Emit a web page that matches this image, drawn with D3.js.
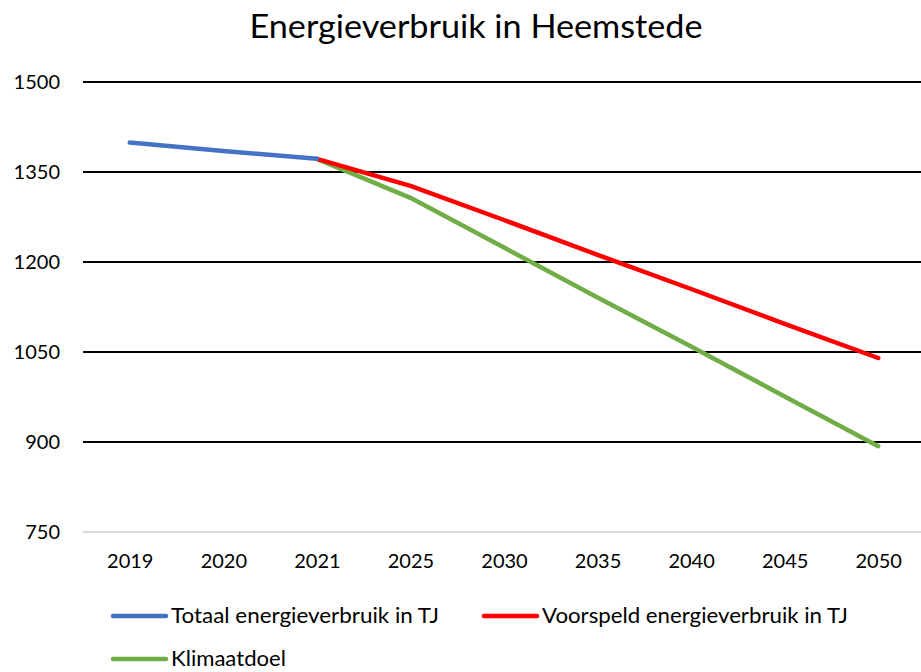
<!DOCTYPE html>
<html>
<head>
<meta charset="utf-8">
<script src="https://cdn.jsdelivr.net/npm/d3@7"></script>
<style>
  body { margin: 0; background: #fff; }
  svg { display: block; font-family: Lato, "Open Sans", sans-serif; }
</style>
</head>
<body>
<div id="chart"></div>
<script>
const years = ['2019', '2020', '2021', '2025', '2030', '2035', '2040', '2045', '2050'];
const yTicks = [750, 900, 1050, 1200, 1350, 1500];

// null = no value for that year
const totaal = [1399, 1385, 1372, null, null, null, null, null, null];
const voorspeld = [null, null, 1372, 1327, 1270, 1212, 1155, 1097, 1040];
const klimaatdoel = [null, null, 1372, 1307, 1224, 1141, 1059, 976, 893];

const seriesNames = ['Totaal energieverbruik in TJ', 'Voorspeld energieverbruik in TJ', 'Klimaatdoel'];
const seriesColors = ['#4472c4', '#ff0000', '#70ad47'];

const width = 921, height = 672;
const margin = { top: 82, right: -4, bottom: 140, left: 83 };

const svg = d3.select('#chart').append('svg')
    .attr('width', width)
    .attr('height', height);

const x = d3.scalePoint()
    .domain(years)
    .range([margin.left, width - margin.right])
    .padding(0.5);

const y = d3.scaleLinear()
    .domain([750, 1500])
    .range([height - margin.bottom, margin.top]);

// title
svg.append('text')
    .attr('x', 476)
    .attr('y', 38)
    .attr('text-anchor', 'middle')
    .attr('textLength', 453)
    .attr('lengthAdjust', 'spacingAndGlyphs')
    .style('font-size', '32px')
    .style('fill', '#000')
    .text('Energieverbruik in Heemstede');

// gridlines
svg.append('g')
    .selectAll('line')
    .data(yTicks)
  .enter().append('line')
    .attr('x1', margin.left)
    .attr('x2', width)
    .attr('y1', d => y(d))
    .attr('y2', d => y(d))
    .attr('stroke', d => d === 750 ? '#d9d9d9' : '#000')
    .attr('stroke-width', 2);

// y axis labels
const yAxis = svg.append('g')
    .attr('transform', 'translate(' + margin.left + ',0)')
    .call(d3.axisLeft(y).tickValues(yTicks).tickSize(0).tickPadding(23).tickFormat(d3.format('d')));
yAxis.select('.domain').remove();
yAxis.selectAll('text').style('font-size', '20px').style('fill', '#000').style('font-family', 'Lato, sans-serif');

// x axis labels
const xAxis = svg.append('g')
    .attr('transform', 'translate(0,' + y(750) + ')')
    .call(d3.axisBottom(x).tickSize(0).tickPadding(22));
xAxis.select('.domain').remove();
xAxis.selectAll('text').style('font-size', '20px').style('fill', '#000').style('font-family', 'Lato, sans-serif');

// lines
const line = d3.line()
    .defined(d => d.value !== null)
    .x(d => x(d.year))
    .y(d => y(d.value));

const allSeries = [totaal, voorspeld, klimaatdoel];
// draw green first, then red, then blue on top
[2, 1, 0].forEach(i => {
    const data = years.map((yr, j) => ({ year: yr, value: allSeries[i][j] }));
    svg.append('path')
        .datum(data)
        .attr('fill', 'none')
        .attr('stroke', seriesColors[i])
        .attr('stroke-width', 4.5)
        .attr('stroke-linecap', 'round')
        .attr('stroke-linejoin', 'round')
        .attr('d', line);
});

// legend
const legendItems = [
    { x: 113, y: 616, textLen: 268 },
    { x: 484, y: 616, textLen: 306 },
    { x: 113, y: 659, textLen: 115 }
];
legendItems.forEach((p, i) => {
    const g = svg.append('g').attr('transform', 'translate(' + p.x + ',' + p.y + ')');
    g.append('line')
        .attr('x1', 0).attr('x2', 53)
        .attr('y1', 0).attr('y2', 0)
        .attr('stroke', seriesColors[i])
        .attr('stroke-width', 4.5)
        .attr('stroke-linecap', 'round');
    g.append('text')
        .attr('x', 58)
        .attr('y', 7)
        .attr('textLength', p.textLen)
        .attr('lengthAdjust', 'spacingAndGlyphs')
        .style('font-size', '21px')
        .style('fill', '#000')
        .text(seriesNames[i]);
});
</script>
</body>
</html>
